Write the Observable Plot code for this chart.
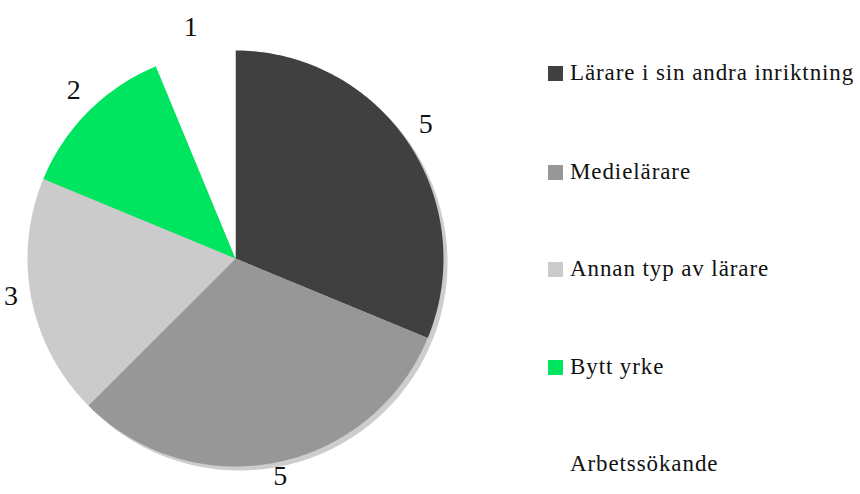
<!DOCTYPE html>
<html>
<head>
<meta charset="utf-8">
<script src="https://cdn.jsdelivr.net/npm/d3@7"></script>
<script src="https://cdn.jsdelivr.net/npm/@observablehq/plot@0.6"></script>
<style>
  html, body { margin: 0; padding: 0; background: #fff; }
  #wrap { position: relative; width: 860px; height: 494px; font-family: "Liberation Serif", "DejaVu Serif", serif; }
  #legend { position: absolute; left: 548px; top: 0; }
  .item { position: absolute; left: 0; display: flex; align-items: center; white-space: nowrap; font-size: 23px; letter-spacing: 0.9px; color: #111; }
  .sw { width: 15px; height: 15px; margin-right: 7px; }
</style>
</head>
<body>
<div id="wrap"></div>
<script>
const categories = ["Lärare i sin andra inriktning", "Medielärare", "Annan typ av lärare", "Bytt yrke", "Arbetssökande"];
const values = [5, 5, 3, 2, 1];
const colors = ["#404040", "#979797", "#cbcbcb", "#00e55f", "#ffffff"];

const data = categories.map((c, i) => ({category: c, value: values[i], color: colors[i]}));
const arcs = d3.pie().sort(null).value(d => d.value)(data);

const pts = [];
arcs.forEach((a, i) => {
  pts.push({i, x: 0, y: 0, color: data[i].color, shadow: data[i].color !== "#ffffff"});
  const n = Math.max(4, Math.ceil((a.endAngle - a.startAngle) * 60));
  for (let k = 0; k <= n; k++) {
    const t = a.startAngle + (a.endAngle - a.startAngle) * k / n;
    pts.push({i, x: Math.sin(t), y: Math.cos(t), color: data[i].color, shadow: data[i].color !== "#ffffff"});
  }
});
const labels = arcs.map((a, i) => {
  const m = (a.startAngle + a.endAngle) / 2;
  return {x: 1.1 * Math.sin(m), y: 1.1 * Math.cos(m), text: String(data[i].value)};
});

const plot = Plot.plot({
  width: 860, height: 494,
  margin: 0,
  x: {domain: [-1, 1], range: [27, 443], axis: null},
  y: {domain: [-1, 1], range: [466, 50], axis: null},
  style: {fontFamily: "Liberation Serif, serif", background: "white"},
  marks: [
    Plot.line(pts.filter(d => d.shadow), {x: "x", y: "y", z: "i", fill: "#cdcdcd", stroke: "none", curve: "linear-closed", dx: 4, dy: 4}),
    Plot.line(pts, {x: "x", y: "y", z: "i", fill: d => d.color, stroke: "none", curve: "linear-closed"}),
    Plot.text(labels, {x: "x", y: "y", text: "text", fontSize: 28, fill: "#111", textAnchor: "middle", lineAnchor: "middle", dy: -7})
  ]
});

const wrap = document.getElementById("wrap");
wrap.appendChild(plot);
const legend = document.createElement("div");
legend.id = "legend";
const rowY = [74, 173, 270, 368, 465];
data.forEach((d, i) => {
  const it = document.createElement("div");
  it.className = "item";
  it.style.top = (rowY[i] - 14) + "px";
  it.innerHTML = `<div class="sw" style="background:${d.color}"></div><span>${d.category}</span>`;
  legend.appendChild(it);
});
wrap.appendChild(legend);
</script>
</body>
</html>
